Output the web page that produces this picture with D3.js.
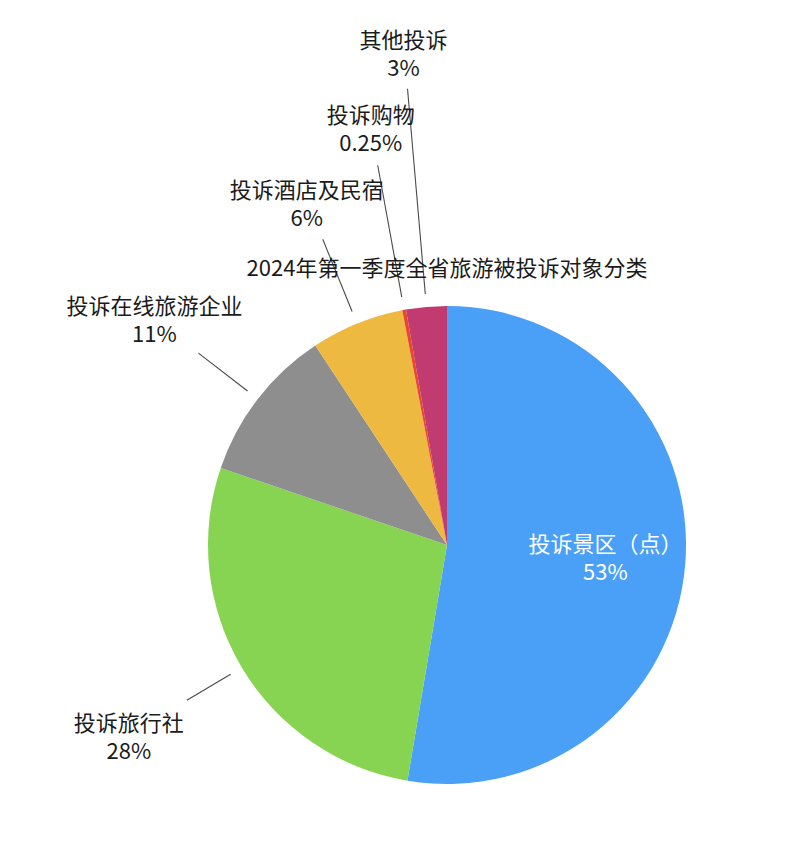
<!DOCTYPE html>
<html>
<head>
<meta charset="utf-8">
<script src="https://cdn.jsdelivr.net/npm/d3@7"></script>
<style>
  html, body { margin: 0; padding: 0; background: #fff; }
  svg { display: block; }
</style>
</head>
<body>
<div id="graphic"></div>
<script>
'use strict';

// Data
const title = `2024年第一季度全省旅游被投诉对象分类`;
const categories = [`投诉景区（点）`, `投诉旅行社`, `投诉在线旅游企业`, `投诉酒店及民宿`, `投诉购物`, `其他投诉`];
const values = [52.7, 27.6, 10.5, 6.3, 0.25, 2.75];
const percentLabels = [`53%`, `28%`, `11%`, `6%`, `0.25%`, `3%`];
const colors = [`#4a9ff6`, `#86d451`, `#8e8e8e`, `#edb941`, `#e8472c`, `#c13a70`];

(function (d3) {
  const width = 800;
  const height = 842;
  const cx = 447;
  const cy = 545;
  const radius = 239;
  const fontSize = 22;
  const lineHeight = 28;

  // Layout: end radius of each leader line (null = label inside slice)
  const leaderEnd = [null, 303, 314, 330, 386, 458];
  // offset of the label block (percent line centre) from the leader end
  const labelOffset = [null, [-58, 51], [-44, -19], [-16, -21], [-7, -22], [-4, -21]];

  const svg = d3
    .select(`div#graphic`)
    .append(`svg`)
    .attr(`width`, width)
    .attr(`height`, height)
    .attr(`font-family`, `"Noto Sans CJK SC", "Noto Sans", sans-serif`)
    .attr(`font-size`, fontSize);

  const pie = d3.pie().sort(null).value((d) => d.value);
  const arcs = pie(values.map((v, i) => ({ value: v, index: i })));

  const arc = d3.arc().innerRadius(0).outerRadius(radius);

  const g = svg.append(`g`).attr(`transform`, `translate(${cx},${cy})`);

  // Slices
  g.selectAll(`path`)
    .data(arcs)
    .join(`path`)
    .attr(`fill`, (d) => colors[d.index])
    .attr(`d`, arc);

  const pointAt = (d, r) => {
    const a = (d.startAngle + d.endAngle) / 2;
    return [r * Math.sin(a), -r * Math.cos(a)];
  };

  // Leader lines
  const outside = arcs.filter((d) => leaderEnd[d.index] !== null);
  g.append(`g`)
    .attr(`stroke`, `#4a4a4a`)
    .attr(`stroke-width`, 1.1)
    .selectAll(`line`)
    .data(outside)
    .join(`line`)
    .attr(`x1`, (d) => pointAt(d, radius + 13)[0])
    .attr(`y1`, (d) => pointAt(d, radius + 13)[1])
    .attr(`x2`, (d) => pointAt(d, leaderEnd[d.index])[0])
    .attr(`y2`, (d) => pointAt(d, leaderEnd[d.index])[1]);

  // Outside labels
  const labels = g
    .append(`g`)
    .attr(`text-anchor`, `middle`)
    .attr(`fill`, `#1b1b1b`)
    .selectAll(`text`)
    .data(outside)
    .join(`text`)
    .attr(`transform`, (d) => {
      const p = pointAt(d, leaderEnd[d.index]);
      const o = labelOffset[d.index];
      return `translate(${p[0] + o[0]},${p[1] + o[1]})`;
    });
  labels
    .append(`tspan`)
    .attr(`x`, 0)
    .attr(`y`, -lineHeight)
    .attr(`dy`, `0.36em`)
    .text((d) => categories[d.index]);
  labels
    .append(`tspan`)
    .attr(`x`, 0)
    .attr(`y`, 0)
    .attr(`dy`, `0.36em`)
    .text((d) => percentLabels[d.index]);

  // Inside label
  const inside = arcs.filter((d) => leaderEnd[d.index] === null);
  const inner = g
    .append(`g`)
    .attr(`text-anchor`, `middle`)
    .attr(`fill`, `#ffffff`)
    .selectAll(`text`)
    .data(inside)
    .join(`text`)
    .attr(`transform`, (d) => {
      const p = pointAt(d, radius * 0.665);
      return `translate(${p[0]},${p[1]})`;
    });
  inner
    .append(`tspan`)
    .attr(`x`, 0)
    .attr(`y`, -lineHeight / 2)
    .attr(`dy`, `0.36em`)
    .text((d) => categories[d.index]);
  inner
    .append(`tspan`)
    .attr(`x`, 0)
    .attr(`y`, lineHeight / 2)
    .attr(`dy`, `0.36em`)
    .text((d) => percentLabels[d.index]);

  // Title
  svg
    .append(`text`)
    .attr(`x`, cx)
    .attr(`y`, 268)
    .attr(`dy`, `0.36em`)
    .attr(`text-anchor`, `middle`)
    .attr(`fill`, `#1b1b1b`)
    .text(title);
})(d3);
</script>
</body>
</html>
